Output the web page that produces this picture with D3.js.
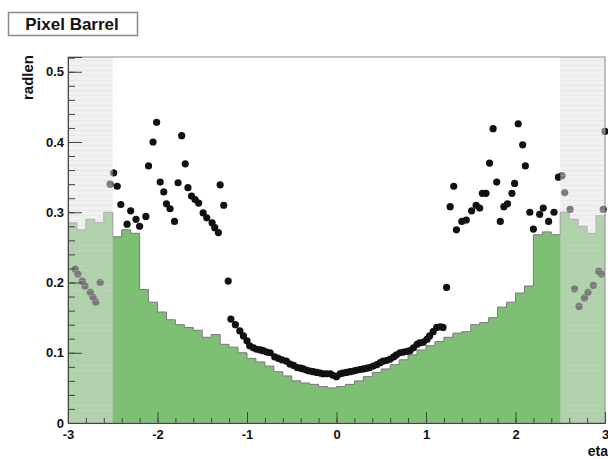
<!DOCTYPE html>
<html>
<head>
<meta charset="utf-8">
<script src="https://cdn.jsdelivr.net/npm/d3@7"></script>
<style>
  body { margin: 0; background: #fff; }
  text { font-family: "Liberation Sans", Arial, sans-serif; font-weight: bold; fill: #111; }
</style>
</head>
<body>
<div id="chart"></div>
<script>
// chart texts
const title = "Pixel Barrel";
const xTitle = "eta";
const yTitle = "radlen";

// histogram of material (green), 0.1 wide bins from -3 to 3
const etaMin = -3, etaMax = 3, binWidth = 0.1;
const materialHist = [
  0.285, 0.275, 0.29, 0.285, 0.30, 0.265, 0.275, 0.27, 0.19, 0.172,
  0.158, 0.147, 0.14, 0.136, 0.132, 0.122, 0.126, 0.112, 0.108, 0.10,
  0.092, 0.087, 0.081, 0.073, 0.067, 0.06, 0.057, 0.055, 0.052, 0.05,
  0.052, 0.055, 0.06, 0.066, 0.072, 0.077, 0.083, 0.09, 0.097, 0.104,
  0.11, 0.116, 0.122, 0.128, 0.13, 0.14, 0.143, 0.15, 0.165, 0.172,
  0.185, 0.195, 0.268, 0.272, 0.268, 0.30, 0.29, 0.28, 0.27, 0.295
];

// measured points (black markers)
const dotEta = [
  -2.92, -2.89, -2.84, -2.81, -2.75, -2.72, -2.69, -2.64, -2.53, -2.49,
  -2.45, -2.41, -2.34, -2.30, -2.24, -2.20, -2.13, -2.10, -2.05, -2.01,
  -1.97, -1.93, -1.90, -1.86, -1.81, -1.77, -1.73, -1.69, -1.66, -1.62,
  -1.58, -1.54, -1.49, -1.45, -1.39, -1.36, -1.32, -1.30, -1.26, -1.21,
  -1.18, -1.13, -1.08, -1.04, -1.00, -0.97, -0.93, -0.89, -0.85, -0.82,
  -0.78, -0.74, -0.69, -0.65, -0.61, -0.56, -0.52, -0.48, -0.44, -0.40,
  -0.37, -0.33, -0.30, -0.26, -0.22, -0.18, -0.15, -0.11, -0.07, -0.04,
  0.00, 0.04, 0.07, 0.11, 0.15, 0.19, 0.22, 0.26, 0.30, 0.34,
  0.37, 0.41, 0.45, 0.49, 0.52, 0.56, 0.60, 0.64, 0.67, 0.71,
  0.75, 0.79, 0.82, 0.86, 0.90, 0.93, 0.97, 1.01, 1.04, 1.08,
  1.12, 1.16, 1.19, 1.23, 1.27, 1.31, 1.34, 1.40, 1.45, 1.51,
  1.56, 1.60, 1.63, 1.67, 1.71, 1.75, 1.79, 1.83, 1.87, 1.91,
  1.96, 1.99, 2.03, 2.08, 2.11, 2.16, 2.20, 2.27, 2.31, 2.37,
  2.43, 2.48, 2.52, 2.55, 2.61, 2.66, 2.71, 2.77, 2.81, 2.87,
  2.93, 2.96, 2.98, 3.00
];
const dotValue = [
  0.219, 0.212, 0.202, 0.195, 0.186, 0.179, 0.172, 0.200, 0.340, 0.356,
  0.337, 0.311, 0.283, 0.302, 0.290, 0.280, 0.294, 0.366, 0.400, 0.428,
  0.343, 0.329, 0.312, 0.305, 0.287, 0.342, 0.409, 0.369, 0.335, 0.323,
  0.318, 0.313, 0.299, 0.292, 0.285, 0.278, 0.271, 0.339, 0.310, 0.202,
  0.148, 0.140, 0.131, 0.124, 0.117, 0.110, 0.107, 0.105, 0.104, 0.103,
  0.101, 0.100, 0.094, 0.092, 0.090, 0.088, 0.084, 0.082, 0.079, 0.078,
  0.077, 0.075, 0.074, 0.073, 0.072, 0.071, 0.070, 0.070, 0.070, 0.068,
  0.066, 0.070, 0.071, 0.072, 0.073, 0.074, 0.075, 0.076, 0.077, 0.078,
  0.079, 0.081, 0.083, 0.086, 0.088, 0.089, 0.091, 0.094, 0.097, 0.100,
  0.101, 0.102, 0.103, 0.107, 0.112, 0.114, 0.115, 0.119, 0.124, 0.130,
  0.136, 0.137, 0.136, 0.193, 0.308, 0.337, 0.275, 0.287, 0.289, 0.302,
  0.310, 0.306, 0.327, 0.327, 0.370, 0.419, 0.343, 0.287, 0.308, 0.312,
  0.327, 0.341, 0.426, 0.396, 0.366, 0.300, 0.276, 0.297, 0.306, 0.287,
  0.300, 0.350, 0.352, 0.328, 0.304, 0.191, 0.166, 0.178, 0.186, 0.196,
  0.216, 0.212, 0.304, 0.415
];

// axis ticks
const xTicks = [-3, -2, -1, 0, 1, 2, 3];
const yTicks = [0, 0.1, 0.2, 0.3, 0.4, 0.5];
const acceptance = 2.5;   // shaded beyond |eta| > 2.5

const width = 608, height = 459;
const margin = {top: 57, right: 3, bottom: 36, left: 68};

const svg = d3.select("#chart").append("svg")
  .attr("width", width).attr("height", height);

const x = d3.scaleLinear().domain([etaMin, etaMax]).range([margin.left, width - margin.right]);
const y = d3.scaleLinear().domain([0, 0.521]).range([height - margin.bottom, margin.top]);

// hatch pattern for the shaded region
const defs = svg.append("defs");
const pat = defs.append("pattern")
  .attr("id", "shade")
  .attr("patternUnits", "userSpaceOnUse")
  .attr("width", 8).attr("height", 5);
pat.append("rect").attr("width", 8).attr("height", 5)
  .attr("fill", "rgb(228,228,228)").attr("fill-opacity", 0.5);
pat.append("line").attr("x1", 0).attr("x2", 8).attr("y1", 0.5).attr("y2", 0.5)
  .attr("stroke", "#d0d0d0").attr("stroke-opacity", 0.25);

// histogram as steps
const steps = materialHist.map((v, i) => ({eta: etaMin + i * binWidth, v: v}));
steps.push({eta: etaMax, v: materialHist[materialHist.length - 1]});

const area = d3.area()
  .curve(d3.curveStepAfter)
  .x(d => x(d.eta))
  .y0(y(0))
  .y1(d => y(d.v));
const line = d3.line()
  .curve(d3.curveStepAfter)
  .x(d => x(d.eta))
  .y(d => y(d.v));

svg.append("path").datum(steps)
  .attr("fill", "#7dc073")
  .attr("d", area);
svg.append("path").datum(steps)
  .attr("fill", "none")
  .attr("stroke", "#7a7a7a")
  .attr("stroke-width", 1)
  .attr("d", line);

// markers
svg.append("g").selectAll("circle")
  .data(dotEta.map((e, i) => ({eta: e, v: dotValue[i]})))
  .join("circle")
  .attr("cx", d => x(d.eta))
  .attr("cy", d => y(d.v))
  .attr("r", 3.6)
  .attr("fill", "#111");

// shaded regions outside acceptance
[[etaMin, -acceptance], [acceptance, etaMax]].forEach(r => {
  svg.append("rect")
    .attr("x", x(r[0])).attr("y", y.range()[1])
    .attr("width", x(r[1]) - x(r[0]))
    .attr("height", y.range()[0] - y.range()[1])
    .attr("fill", "url(#shade)");
});

// frame
svg.append("rect")
  .attr("x", x(etaMin)).attr("y", y.range()[1])
  .attr("width", x(etaMax) - x(etaMin))
  .attr("height", y.range()[0] - y.range()[1])
  .attr("fill", "none").attr("stroke", "#8a8a8a");

// y axis
const yMinor = d3.range(0, 0.5201, 0.02);
svg.append("g")
  .attr("transform", "translate(" + x(etaMin) + ",0)")
  .call(d3.axisLeft(y).tickValues(yMinor).tickSize(-7).tickFormat(""))
  .call(g => g.select(".domain").remove())
  .call(g => g.selectAll("line").attr("stroke", "#444"));
svg.append("g")
  .attr("transform", "translate(" + x(etaMin) + ",0)")
  .call(d3.axisLeft(y).tickValues(yTicks).tickSize(-14).tickPadding(4)
    .tickFormat(d => d === 0 ? "0" : d3.format(".1f")(d)))
  .call(g => g.select(".domain").attr("stroke", "#444"))
  .call(g => g.selectAll("line").attr("stroke", "#444"))
  .call(g => g.selectAll("text").attr("font-size", 13).attr("fill", "#111"));

// x axis
const xMinor = d3.range(-3, 3.001, 0.2);
svg.append("g")
  .attr("transform", "translate(0," + y(0) + ")")
  .call(d3.axisBottom(x).tickValues(xMinor).tickSize(-5).tickFormat(""))
  .call(g => g.select(".domain").remove())
  .call(g => g.selectAll("line").attr("stroke", "#444"));
svg.append("g")
  .attr("transform", "translate(0," + y(0) + ")")
  .call(d3.axisBottom(x).tickValues(xTicks).tickSize(-11).tickPadding(7)
    .tickFormat(d => d < 0 ? "-" + Math.abs(d) : String(d)))
  .call(g => g.select(".domain").attr("stroke", "#444"))
  .call(g => g.selectAll("line").attr("stroke", "#444"))
  .call(g => g.selectAll("text").attr("font-size", 13).attr("fill", "#111"));

// axis titles
svg.append("text")
  .attr("transform", "translate(33," + (margin.top - 2) + ") rotate(-90)")
  .attr("text-anchor", "end")
  .attr("font-size", 15)
  .text(yTitle);
svg.append("text")
  .attr("x", width).attr("y", 456)
  .attr("text-anchor", "end")
  .attr("font-size", 14)
  .text(xTitle);

// title box
svg.append("rect")
  .attr("x", 8.5).attr("y", 12.5).attr("width", 129).attr("height", 23)
  .attr("fill", "#fff").attr("stroke", "#8a8a8a").attr("stroke-width", 1.5);
svg.append("text")
  .attr("x", 72).attr("y", 30)
  .attr("text-anchor", "middle")
  .attr("font-size", 17)
  .text(title);
</script>
</body>
</html>
